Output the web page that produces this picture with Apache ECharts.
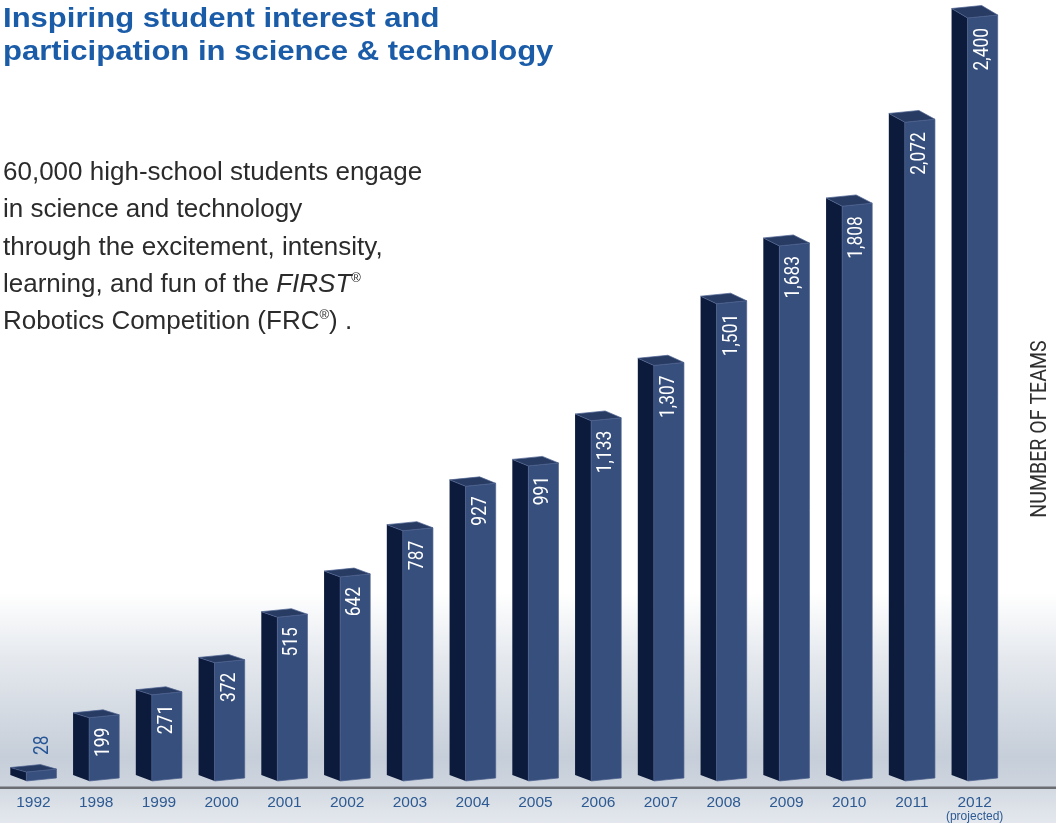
<!DOCTYPE html>
<html><head><meta charset="utf-8">
<script src="https://cdn.jsdelivr.net/npm/echarts@6/dist/echarts.min.js"></script>
<style>html,body{margin:0;padding:0;background:#fff}#c{width:1056px;height:823px}</style>
</head><body><div id="c"></div>
<script>
const years = ['1992','1998','1999','2000','2001','2002','2003','2004','2005','2006','2007','2008','2009','2010','2011','2012'];
const teams = [28,199,271,372,515,642,787,927,991,1133,1307,1501,1683,1808,2072,2400];
const valueLabels = ['28','199','271','372','515','642','787','927','991','1,133','1,307','1,501','1,683','1,808','2,072','2,400'];
const titleLines = ['Inspiring student interest and','participation in science & technology'];
const bodyLines = [
  '60,000 high-school students engage',
  'in science and technology',
  'through the excitement, intensity,',
  'learning, and fun of the {i|FIRST}{s|®}',
  'Robotics Competition (FRC{s|®}) .'
];
const axisTitle = 'NUMBER OF TEAMS';
const projectedNote = '(projected)';

const NARROW = 'Roboto,"Liberation Sans",sans-serif';
const SANS = '"Liberation Sans",Arial,Helvetica,sans-serif';
const C_FRONT = '#374f7c', C_LEFT = '#0c1a3b', C_TOP = '#283c63';

const chart = echarts.init(document.getElementById('c'), null, {renderer:'canvas'});

function renderItem(params, api){
  const i = api.value(0), v = api.value(1);
  const top = api.coord([i, v]);
  const base = api.coord([i, 0]);
  const band = api.size([1, 0])[0];
  const W = band * 0.735;
  const lw = W * 16 / 46, fw = W - lw;
  const cx = top[0];
  const xl = cx - W / 2, xm = xl + lw, xr = xl + W;
  const yt = top[1], yb = base[1];
  const h = yb - yt;
  const drop = 4.5 + 5 * Math.min(1, h / 763);
  const rise = 3;
  const children = [
    {type:'polygon', shape:{points:[[xl, yt - drop],[xm, yt],[xm, yb],[xl, yb - 6]]}, style:{fill:C_LEFT}},
    {type:'polygon', shape:{points:[[xm, yt],[xr, yt - rise],[xr, yb - rise],[xm, yb]]}, style:{fill:C_FRONT, stroke:'#4a5f8c', lineWidth:0.7}},
    {type:'polygon', shape:{points:[[xl, yt - drop],[xl + fw, yt - drop - rise],[xr, yt - rise],[xm, yt]]}, style:{fill:C_TOP, stroke:'#4d6291', lineWidth:0.7}}
  ];
  const lbl = valueLabels[params.dataIndex];
  if (h > 50) {
    children.push({type:'text', x: xm + fw / 2, y: yt + 10, rotation: Math.PI / 2, scaleX:0.87,
      style:{text: lbl, fill:'#ffffff', font:'20px ' + NARROW, textAlign:'right', textVerticalAlign:'middle'}});
  } else {
    children.push({type:'text', x: xm + fw / 2 + 2, y: yt - 17, rotation: Math.PI / 2, scaleX:0.87,
      style:{text: lbl, fill:'#255596', font:'20px ' + NARROW, textAlign:'left', textVerticalAlign:'middle'}});
  }
  return {type:'group', children};
}

const graphics = [
  {type:'rect', shape:{x:0, y:786.5, width:1056, height:2.5}, style:{fill:'#6a6d72'}, z:1, silent:true}
];
titleLines.forEach((t, k) => {
  graphics.push({type:'text', x:3, y:20 + k * 33, scaleX:1.15, style:{text:t, fill:'#1b5ca8', font:'bold 27px ' + SANS, textVerticalAlign:'middle'}, z:10});
});
bodyLines.forEach((t, k) => {
  graphics.push({type:'text', x:3, y:173 + k * 37.3, style:{text:t, fill:'#2b2b2b', font:'26px ' + SANS, textVerticalAlign:'middle',
    rich:{i:{fontStyle:'italic', fontSize:26, fontFamily:SANS, fill:'#2b2b2b'}, s:{fontSize:13, fontFamily:SANS, fill:'#2b2b2b', verticalAlign:'top', padding:[0,0,12,0]}}}, z:10});
});
graphics.push({type:'text', x:1040, y:429, rotation:Math.PI / 2, scaleX:0.89, style:{text:axisTitle, fill:'#2f2f2f', font:'22px ' + NARROW, textAlign:'center', textVerticalAlign:'middle'}, z:10});

chart.setOption({
  animation:false,
  backgroundColor:{type:'linear', x:0, y:0, x2:0, y2:1, colorStops:[
    {offset:0, color:'#ffffff'},
    {offset:0.72, color:'#ffffff'},
    {offset:0.80, color:'#e5e9ee'},
    {offset:0.92, color:'#c6ced9'},
    {offset:0.955, color:'#cdd4de'},
    {offset:0.958, color:'#d4dae2'},
    {offset:1, color:'#e4e8ee'}
  ]},
  grid:{left:2, right:50, top:18, bottom:42, containLabel:false},
  xAxis:{type:'category', data:years, axisLine:{show:false}, axisTick:{show:false}, splitLine:{show:false},
    axisLabel:{color:'#2d5a92', fontSize:15.5, fontFamily:SANS, margin:14, lineHeight:16, interval:0,
      formatter: v => v === years[years.length - 1] ? v + '\n{p|' + projectedNote + '}' : v,
      rich:{p:{fontSize:12, lineHeight:11, color:'#2d5a92', fontFamily:SANS}}}},
  yAxis:{type:'value', min:0, max:2400, show:false},
  series:[{type:'custom', renderItem, encode:{x:0, y:1}, clip:false,
    data: teams.map((v, i) => [i, v])}],
  graphic: graphics
});
</script></body></html>
